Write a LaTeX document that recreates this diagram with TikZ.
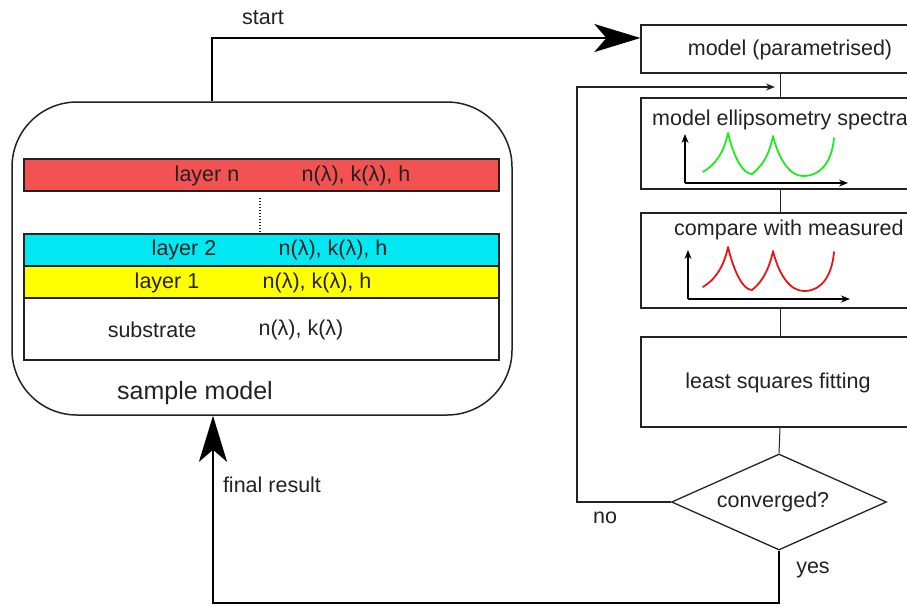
\documentclass[tikz,border=0pt]{standalone}
\usepackage{fontspec}
\setmainfont{Liberation Sans}
\usetikzlibrary{shapes.geometric,arrows.meta}
\definecolor{lred}{RGB}{242,82,82}
\definecolor{lcyan}{RGB}{0,232,242}
\definecolor{lyellow}{RGB}{255,255,0}
\definecolor{cgreen}{RGB}{30,235,30}
\definecolor{cred}{RGB}{235,20,20}
\definecolor{ink}{RGB}{34,34,34}
\begin{document}
\begin{tikzpicture}[x=1pt,y=-1pt,
  every node/.style={font=\fontsize{21.5}{26}\selectfont, text=ink, inner sep=0pt},
  flowbox/.style={draw=ink, line width=1.3pt, rectangle, minimum width=278pt},
  layerbox/.style={draw=ink, line width=1.1pt, rectangle, minimum width=475pt},
  thinline/.style={draw=ink, line width=1pt},
  bigarrow/.style={draw=black, line width=2.6pt, -{Stealth[length=46pt,width=28pt,inset=12pt]}},
  axisarrow/.style={draw=black, line width=1.3pt, -{Stealth[length=9pt,width=7pt]}},
  curve/.style={line width=1.8pt, line join=round, line cap=round},
]
\useasboundingbox (0,0) rectangle (907,606);

% ---- sample model ----
\node[draw=ink, line width=1.5pt, rounded corners=65pt, minimum width=500pt, minimum height=313pt] (sm) at (262,258.5) {};
\node[layerbox, fill=lred, minimum height=32pt] (ln) at (261.5,175) {};
\node[layerbox, fill=lcyan, minimum height=32pt] (l2) at (261.5,250) {};
\node[layerbox, fill=lyellow, minimum height=32pt] (l1) at (261.5,282) {};
\node[layerbox, fill=white, minimum height=62pt] (sub) at (261.5,329) {};

\node (tln) at (207,176) {layer n};
\node (vln) at (356,176) {n(λ), k(λ), h};
\node (tl2) at (184,250) {layer 2};
\node (vl2) at (333,250) {n(λ), k(λ), h};
\node (tl1) at (167,283) {layer 1};
\node (vl1) at (317,283) {n(λ), k(λ), h};
\node (tsub) at (152,330) {substrate};
\node (vsub) at (301,330) {n(λ), k(λ)};
\node[font=\fontsize{25}{30}\selectfont] (tsm) at (195,393) {sample model};

\coordinate (dotx) at (260,0);
\draw[thinline, dotted, line width=1.2pt] (ln.south -| dotx) ++(0,6) -- (l2.north -| dotx) ++(0,0);

% ---- flow boxes ----
\node[flowbox, minimum height=48pt] (m1) at (780,49) {};
\node[flowbox, minimum height=91pt] (m2) at (780,143.5) {};
\node[flowbox, minimum height=95pt] (m3) at (780,260.5) {};
\node[flowbox, minimum height=90pt] (m4) at (780,382) {};
\node[diamond, draw=ink, line width=1.3pt, minimum width=215pt, minimum height=96pt] (conv) at (779,502) {};

\node (t1) at (790,50) {model (parametrised)};
\node[anchor=west] (t2) at (652,120) {model ellipsometry spectra};
\node[anchor=west] (t3) at (674,230) {compare with measured};
\node (t4) at (778,383) {least squares fitting};
\node (t5) at (773,502) {converged?};

% mini plots
\draw[axisarrow] (685,183) -- (685,134);
\draw[axisarrow] (685,183) -- (848,183);
\draw[curve, cgreen] (703,172) .. controls (716,164) and (724,152) .. (728,133)
  .. controls (734,158) and (743,174) .. (752,174)
  .. controls (762,166) and (769,156) .. (773,136)
  .. controls (779,160) and (790,176) .. (803,176)
  .. controls (822,176) and (832,160) .. (834,138);

\draw[axisarrow] (688,299) -- (688,250);
\draw[axisarrow] (688,299) -- (850,299);
\draw[curve, cred] (703,287) .. controls (716,279) and (724,266) .. (728,247)
  .. controls (734,272) and (743,290) .. (752,290)
  .. controls (762,282) and (769,270) .. (773,251)
  .. controls (779,275) and (790,291) .. (804,291)
  .. controls (822,291) and (832,275) .. (834,252);

% connectors between flow boxes
\draw[thinline] (m1.south) -- (m2.north);
\draw[thinline] (m2.south) -- (m3.north);
\draw[thinline] (m3.south) -- (m4.north);
\draw[thinline] (m4.south) -- (conv.north);

% feedback loop (no)
\coordinate (fbtop) at (577,87);
\coordinate (fbend) at (775,87);
\draw[thinline, line width=1.3pt, -{Stealth[length=9pt,width=7pt]}] (conv.west) -| (fbtop) -- (fbend);
\node (tno) at (605,518) {no};

% start arrow
\coordinate (sx) at (212,0);
\draw[bigarrow] (sm.north -| sx) |- ([yshift=11pt]m1.west);
\node (tstart) at (263,18) {start};

% final result arrow (yes)
\coordinate (fb) at (213,603);
\draw[bigarrow] (conv.south) |- (fb) -- (sm.south -| fb);
\node (tyes) at (813,570) {yes};
\node (tfinal) at (272,485) {final result};
\end{tikzpicture}
\end{document}
